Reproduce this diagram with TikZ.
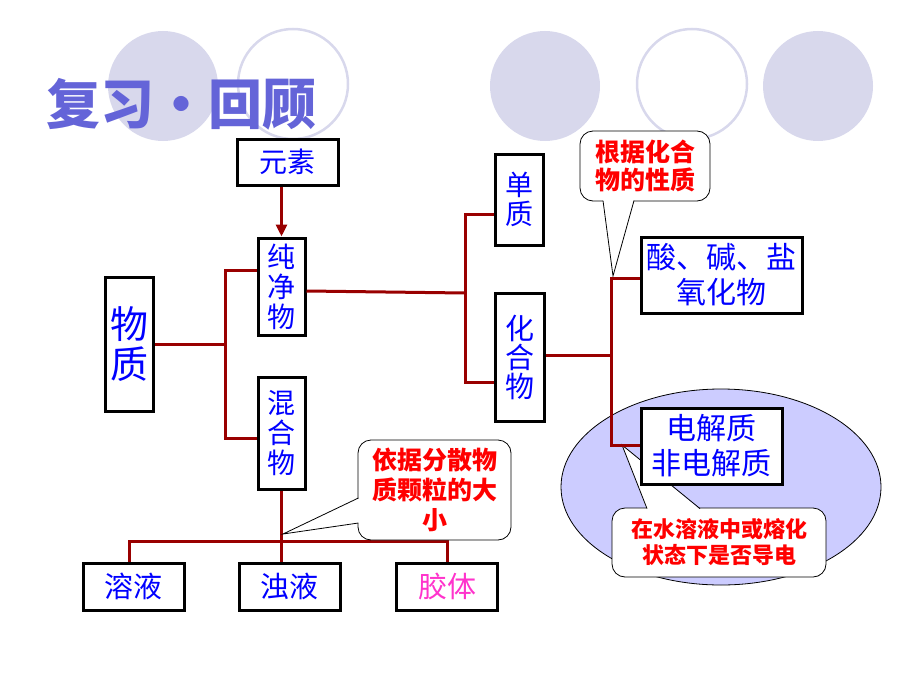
\documentclass[tikz,border=0pt]{standalone}
\usepackage{fontspec}
\setmainfont{Noto Sans CJK SC}
\usetikzlibrary{arrows.meta,calc}
\definecolor{lav}{HTML}{D8D8EC}
\definecolor{ln}{HTML}{990000}
\definecolor{ttl}{HTML}{6464D8}
\definecolor{ell}{HTML}{CCCCFF}
\definecolor{pinkc}{HTML}{FF33CC}
\begin{document}
\begin{tikzpicture}[x=1pt,y=-1pt,
  box/.style={draw=black,line width=3pt,fill=white,text=blue,inner sep=0pt,align=center},
  conn/.style={draw=ln,line width=3pt},
  bub/.style={draw=black,line width=0.8pt,fill=white,rounded corners=13pt,inner sep=0pt,
              text=red,align=center,font=\bfseries\fontsize{24}{29}\selectfont},
  ptr/.style={draw=black,line width=0.8pt},
  circf/.style={fill=lav},
  circo/.style={draw=lav,line width=2.5pt}]
\useasboundingbox (0,0) rectangle (920,690);
% background circles
\fill[circf] (163,86) circle (55);
\draw[circo] (293,84) circle (55);
\fill[circf] (545,86) circle (55);
\draw[circo] (692,84) circle (55);
\fill[circf] (818,86) circle (55);
% title
\node[text=ttl,font=\bfseries\fontsize{54}{60}\selectfont] (title) at (181,104) {复习・回顾};

% ellipse
\draw[fill=ell,line width=0.8pt] (721,487) ellipse (160 and 98);

% boxes
\node[box,minimum width=101pt,minimum height=46pt,font=\fontsize{28}{30}\selectfont] (yuansu) at (287.5,162) {元素};
\node[box,minimum width=47pt,minimum height=97pt,font=\fontsize{28}{30}\selectfont] (cjw) at (281.5,286.5) {纯\\净\\物};
\node[box,minimum width=48pt,minimum height=134pt,font=\fontsize{38}{40}\selectfont] (wz) at (129,344) {物\\质};
\node[box,minimum width=47pt,minimum height=112pt,font=\fontsize{28}{30}\selectfont] (hhw) at (281.5,433) {混\\合\\物};
\node[box,minimum width=48pt,minimum height=91pt,font=\fontsize{28}{29}\selectfont] (dz) at (519,199.5) {单\\质};
\node[box,minimum width=49pt,minimum height=128pt,font=\fontsize{29}{29}\selectfont] (hhw2) at (519.5,357) {化\\合\\物};
\node[box,minimum width=161pt,minimum height=76pt,font=\fontsize{30}{35}\selectfont] (sjy) at (721.5,275) {酸、碱、盐\\氧化物};
\node[box,minimum width=101pt,minimum height=47pt,font=\fontsize{29}{30}\selectfont] (ry) at (133.5,586.5) {溶液};
\node[box,minimum width=101pt,minimum height=47pt,font=\fontsize{29}{30}\selectfont] (zy) at (289.5,586.5) {浊液};
\node[box,minimum width=101pt,minimum height=47pt,font=\fontsize{29}{30}\selectfont,text=pinkc] (jt) at (447,586.5) {胶体};

% callout 3 (behind electrolyte box)
\coordinate (tip3) at (622,445);
\node[bub,minimum width=214pt,minimum height=69pt,font=\bfseries\fontsize{22}{26}\selectfont] (cb3) at (719,542.5) {在水溶液中或熔化\\状态下是否导电};
\fill[white] (647,509.5) -- (tip3) -- (700,509.5) -- cycle;
\draw[ptr] (647,508.6) -- (tip3) -- (700,508.6);

\node[box,minimum width=141pt,minimum height=76pt,font=\fontsize{30}{35}\selectfont] (djz) at (711.5,446) {电解质\\非电解质};

% callout 1
\coordinate (tip1) at (613,276);
\node[bub,minimum width=130pt,minimum height=70pt,font=\bfseries\fontsize{25}{28}\selectfont] (cb1) at (645,166) {根据化合\\物的性质};
\fill[white] (603,199.5) -- (tip1) -- (634,199.5) -- cycle;
\draw[ptr] (603,200.6) -- (tip1) -- (634,200.6);

% connectors
\coordinate (j1) at (225,344);
\coordinate (j2) at (465,293);
\coordinate (j3) at (611,355);
\coordinate (j4) at (282,541);
\draw[conn,-{Triangle[length=12pt,width=11pt]}] (cjw.north |- yuansu.south) -- (cjw.north);
\draw[conn] (wz.east) -- (j1);
\draw[conn] ([yshift=16pt]cjw.west) -| (j1) |- ([yshift=-5pt]hhw.west);
\draw[conn] ([yshift=-4.5pt]cjw.east) -- (j2);
\draw[conn] ([yshift=-14.5pt]dz.west) -| (j2) |- ([yshift=-25pt]hhw2.west);
\draw[conn] ([yshift=2pt]hhw2.east) -- (j3);
\draw[conn] ([yshift=-3pt]sjy.west) -| (j3) |- ([yshift=1pt]djz.west);
\draw[conn] (hhw.south) -- (hhw.south |- zy.north);
\draw[conn] ([xshift=-4.5pt]ry.north) |- (j4) -| (jt.north);

% callout 2
\coordinate (tip2) at (283,534);
\node[bub,minimum width=153pt,minimum height=100pt,font=\bfseries\fontsize{25}{30}\selectfont] (cb2) at (434.5,490) {依据分散物\\质颗粒的大\\小};
\fill[white] (359.5,498) -- (tip2) -- (359.5,523) -- cycle;
\draw[ptr] (358.4,498) -- (tip2) -- (358.4,523);
\end{tikzpicture}
\end{document}
